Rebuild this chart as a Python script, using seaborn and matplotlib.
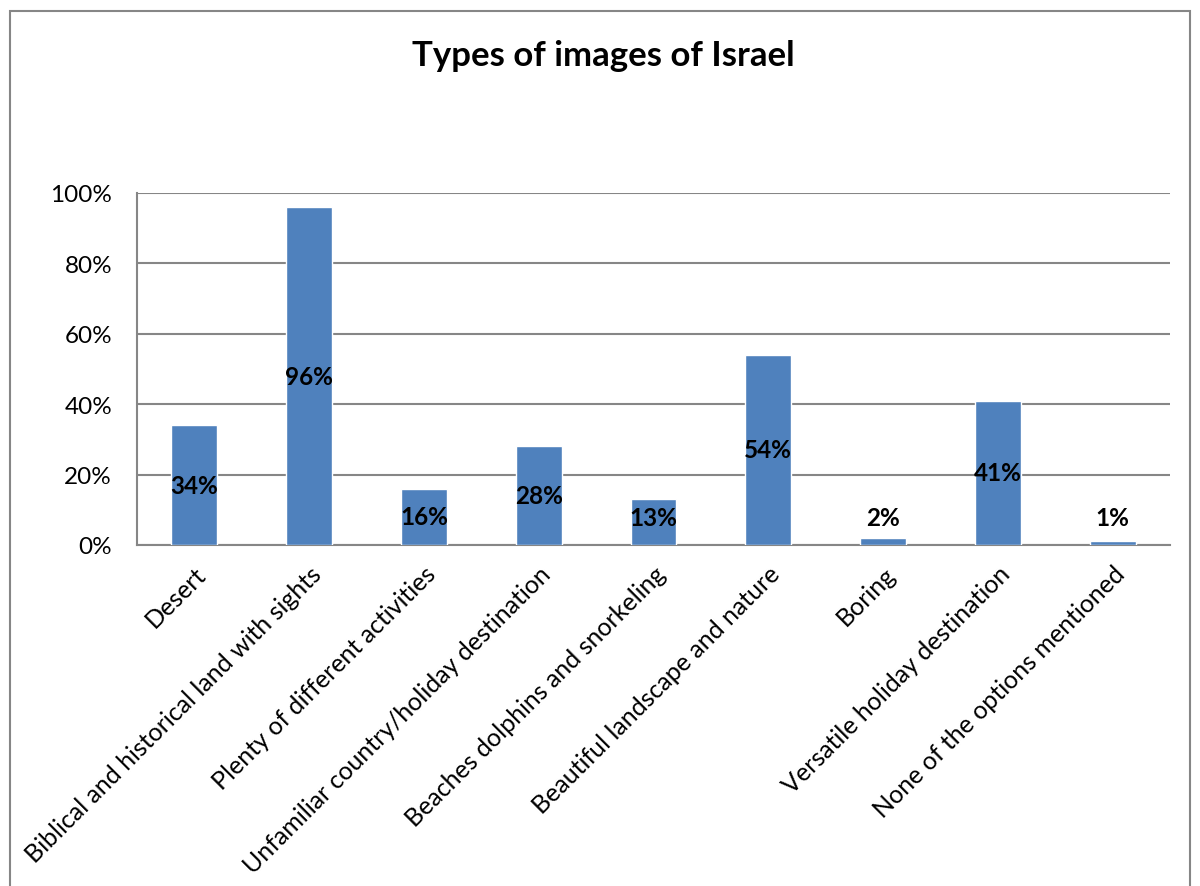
import matplotlib
matplotlib.use("Agg")
import matplotlib.pyplot as plt
import matplotlib.patches as mpatches
from matplotlib.ticker import FuncFormatter
import seaborn as sns
import pandas as pd

categories = [
    "Desert",
    "Biblical and historical land with sights",
    "Plenty of different activities",
    "Unfamiliar country/holiday destination",
    "Beaches dolphins and snorkeling",
    "Beautiful landscape and nature",
    "Boring",
    "Versatile holiday destination",
    "None of the options mentioned",
]
values = [34, 96, 16, 28, 13, 54, 2, 41, 1]
y_ticks = [0, 20, 40, 60, 80, 100]
title = "Types of images of Israel"

sns.set_theme(style="white")
plt.rcParams["font.family"] = ["Lato", "DejaVu Sans"]

df = pd.DataFrame({"category": categories, "value": values})

fig = plt.figure(figsize=(12, 8.87), dpi=100)
ax = fig.add_axes([137 / 1200, 1 - 546 / 887, (1170 - 137) / 1200, (546 - 194) / 887])

sns.barplot(data=df, x="category", y="value", color="#4F81BD", saturation=1,
            width=0.4, ax=ax, zorder=3)

ax.set_ylim(0, 100)
ax.set_xlim(-0.5, len(categories) - 0.5)
ax.set_yticks(y_ticks)
ax.yaxis.set_major_formatter(FuncFormatter(lambda v, _: f"{v:.0f}%"))
ax.yaxis.grid(True, color="#868686", linewidth=1.5, zorder=0)
ax.set_axisbelow(True)
ax.set_xlabel("")
ax.set_ylabel("")

for side in ["top", "right"]:
    ax.spines[side].set_visible(False)
for side in ["left", "bottom"]:
    ax.spines[side].set_color("#868686")
    ax.spines[side].set_linewidth(1.5)

ax.tick_params(axis="y", labelsize=17.5, colors="black", pad=18, length=0)
ax.tick_params(axis="x", length=0, pad=12)
ax.set_xticks(range(len(categories)))
ax.set_xticklabels(categories, rotation=45, ha="right", rotation_mode="anchor",
                   fontsize=18, color="black")

# value labels centred in each bar, lifted above the axis for short bars
for i, v in enumerate(values):
    ax.text(i, max(v / 2, 7.7), f"{v}%", ha="center", va="center",
            fontsize=17.5, fontweight="bold", color="black", zorder=4)

fig.text(603 / 1200, 1 - 56 / 887, title, ha="center", va="center",
         fontsize=25, fontweight="bold", color="black")

frame = mpatches.Rectangle((10 / 1200, -0.01), 1180 / 1200, 1.01 - 12 / 887,
                           transform=fig.transFigure, fill=False,
                           edgecolor="#868686", linewidth=1.5)
fig.patches.append(frame)

fig.savefig("out.png", dpi=100)
